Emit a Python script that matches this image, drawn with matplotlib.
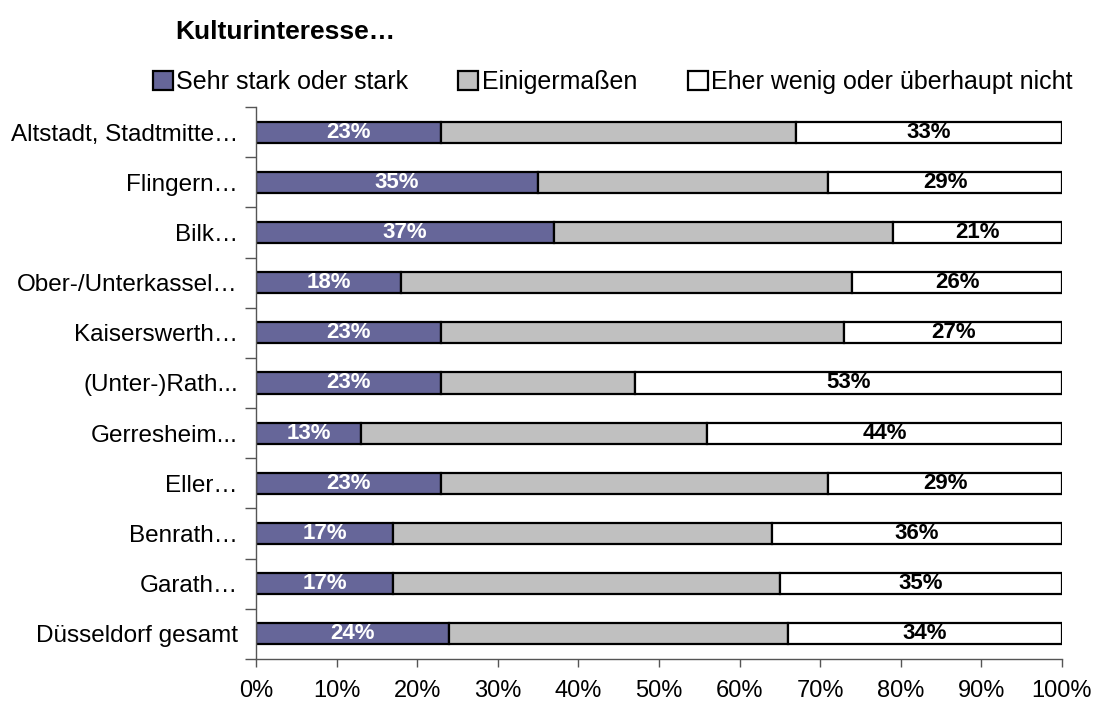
import matplotlib
matplotlib.use("Agg")
import matplotlib.pyplot as plt
from matplotlib.patches import Patch
import numpy as np

plt.rcParams['font.family'] = ['Liberation Sans', 'DejaVu Sans']

# Stadtbezirke (top to bottom)
districts = [
    "Altstadt, Stadtmitte…", "Flingern…", "Bilk…", "Ober-/Unterkassel…",
    "Kaiserswerth…", "(Unter-)Rath...", "Gerresheim...", "Eller…",
    "Benrath…", "Garath…", "Düsseldorf gesamt",
]
# Anteile in Prozent
strong = [23, 35, 37, 18, 23, 23, 13, 23, 17, 17, 24]
somewhat = [44, 36, 42, 56, 50, 24, 43, 48, 47, 48, 42]
little = [33, 29, 21, 26, 27, 53, 44, 29, 36, 35, 34]

series_names = ["Sehr stark oder stark", "Einigermaßen", "Eher wenig oder überhaupt nicht"]
colors = ["#666699", "#C0C0C0", "#FFFFFF"]

fig = plt.figure(figsize=(10.94, 7.02), dpi=100)
ax = fig.add_axes([0.234, 0.0613, 0.7367, 0.7863])

y = np.arange(len(districts))
h = 0.42
left = np.zeros(len(districts))
for vals, col in zip([strong, somewhat, little], colors):
    ax.barh(y, vals, left=left, height=h, color=col, edgecolor="black", linewidth=1.6)
    left = left + np.array(vals)

# value labels for first and last segment
for i in range(len(districts)):
    ax.text(strong[i] / 2, y[i], f"{strong[i]}%", ha="center", va="center",
            color="white", fontsize=16, fontweight="bold")
    start = strong[i] + somewhat[i]
    ax.text(start + little[i] / 2, y[i], f"{little[i]}%", ha="center", va="center",
            color="black", fontsize=16, fontweight="bold")

ax.set_xlim(0, 100)
ax.set_ylim(len(districts) - 0.5, -0.5)
ax.set_xticks(np.arange(0, 101, 10))
ax.set_xticklabels([f"{v}%" for v in range(0, 101, 10)], fontsize=17)
ax.tick_params(axis="x", length=6, width=1, color="#555555", pad=9)

ax.set_yticks(y)
ax.set_yticklabels(districts, fontsize=17.5)
ax.tick_params(axis="y", length=0, pad=13)
ax.set_yticks(np.arange(-0.5, len(districts), 1), minor=True)
ax.tick_params(axis="y", which="minor", length=8, width=1, color="#555555")

for s in ["top", "right"]:
    ax.spines[s].set_visible(False)
for s in ["left", "bottom"]:
    ax.spines[s].set_color("#555555")
    ax.spines[s].set_linewidth(1)

fig.text(0.16, 0.955, "Kulturinteresse…", fontsize=19, fontweight="bold", ha="left", va="center")

handles = [Patch(facecolor=c, edgecolor="black", linewidth=1.6) for c in colors]
fig.legend(handles, series_names, loc="center", bbox_to_anchor=(0.560, 0.883), ncol=3,
           frameon=False, fontsize=18, handlelength=0.8, handleheight=0.8,
           handletextpad=0.15, columnspacing=2.0)

fig.savefig("out.png", dpi=100)
